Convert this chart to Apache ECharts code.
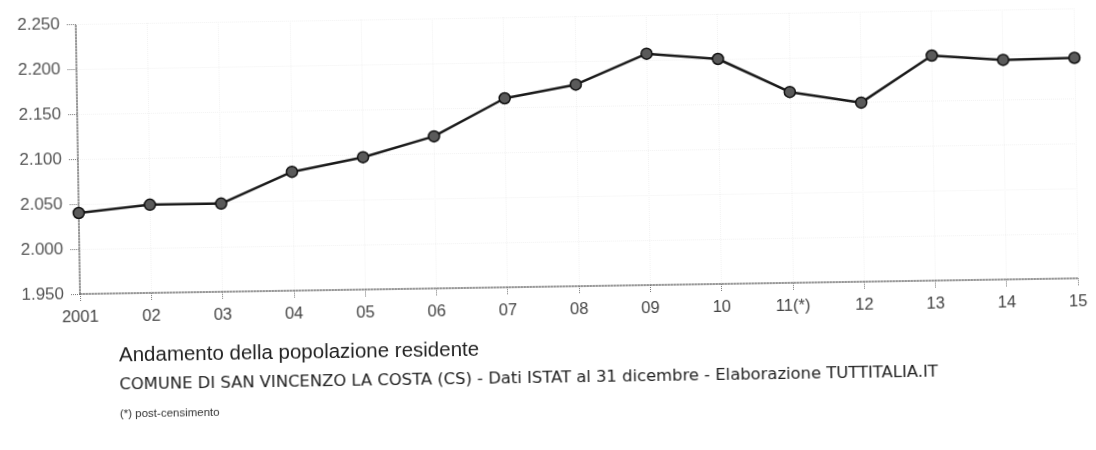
<!DOCTYPE html>
<html>
<head>
<meta charset="utf-8">
<script src="https://cdn.jsdelivr.net/npm/echarts@6/dist/echarts.min.js"></script>
<style>
  html, body { margin: 0; padding: 0; background: #fff; }
  #chart { width: 1096px; height: 450px; transform: rotate(-0.9deg); transform-origin: 80px 294px; }
</style>
</head>
<body>
<div id="chart"></div>
<script>
// Data (population at 31 December)
const categories = ['2001', '02', '03', '04', '05', '06', '07', '08', '09', '10', '11(*)', '12', '13', '14', '15'];
const population = [2040, 2048, 2048, 2082, 2097, 2119, 2160, 2174, 2207, 2200, 2162, 2149, 2200, 2194, 2195];
const yMin = 1950, yMax = 2250, yStep = 50;
const titleText = 'Andamento della popolazione residente';
const subtitleText = 'COMUNE DI SAN VINCENZO LA COSTA (CS) - Dati ISTAT al 31 dicembre - Elaborazione TUTTITALIA.IT';
const noteText = '(*) post-censimento';

const font = '"Liberation Sans", Arial, sans-serif';
const wideFont = '"DejaVu Sans", Verdana, sans-serif';
const chart = echarts.init(document.getElementById('chart'), null, { renderer: 'canvas' });
chart.setOption({
  backgroundColor: '#ffffff',
  animation: false,
  title: [
    { text: titleText, left: 113, top: 341, textStyle: { fontFamily: font, fontSize: 20.5, fontWeight: 'normal', color: '#222' } },
    { text: subtitleText, left: 113, top: 373, textStyle: { fontFamily: wideFont, fontSize: 16.4, fontWeight: 'normal', color: '#222' } },
    { text: noteText, left: 113, top: 404, textStyle: { fontFamily: font, fontSize: 11.5, fontWeight: 'normal', color: '#333' } }
  ],
  grid: { left: 80, right: 18, top: 24, bottom: 156, containLabel: false },
  xAxis: {
    type: 'category',
    data: categories,
    boundaryGap: false,
    axisLine: { show: true, lineStyle: { color: '#777', type: 'dotted', width: 1.5 } },
    axisTick: { show: true, length: 7, lineStyle: { color: '#777', type: 'dotted' } },
    axisLabel: { margin: 15, color: '#444', fontFamily: font, fontSize: 16.5 },
    splitLine: { show: true, lineStyle: { color: '#f2f2f2', type: 'dotted' } }
  },
  yAxis: {
    type: 'value',
    min: yMin, max: yMax, interval: yStep,
    axisLine: { show: true, lineStyle: { color: '#777', type: 'dotted', width: 1.5 } },
    axisTick: { show: true, length: 9, lineStyle: { color: '#777', type: 'dotted' } },
    axisLabel: {
      margin: 16, color: '#555', fontFamily: font, fontSize: 17,
      formatter: v => String(Math.floor(v / 1000)) + '.' + String(v % 1000).padStart(3, '0')
    },
    splitLine: { show: true, lineStyle: { color: '#f2f2f2', type: 'dotted' } }
  },
  series: [{
    type: 'line',
    data: population,
    symbol: 'circle',
    symbolSize: 11,
    lineStyle: { color: '#1a1a1a', width: 2.5 },
    itemStyle: { color: '#5a5a5a', borderColor: '#111', borderWidth: 1.5 }
  }]
});
</script>
</body>
</html>
